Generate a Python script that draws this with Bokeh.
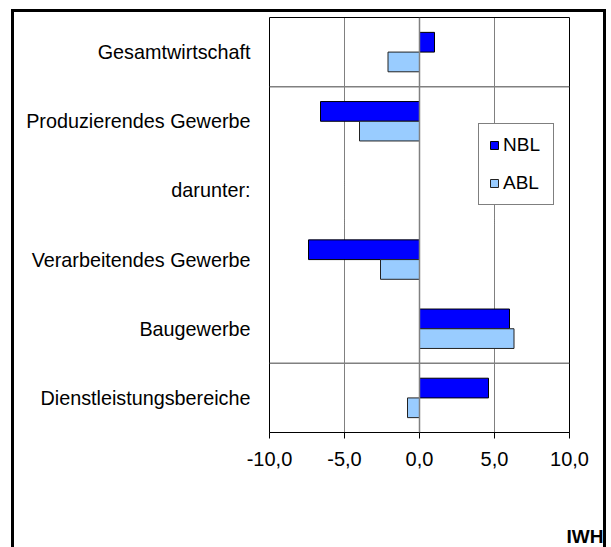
from bokeh.plotting import figure
from bokeh.models import (FactorRange, Range1d, FixedTicker, Span, Legend, LegendItem,
                          Title, ColumnDataSource)
from bokeh.transform import dodge
from bokeh.embed import file_html
from bokeh.resources import INLINE

categories = ["Gesamtwirtschaft", "Produzierendes Gewerbe", "darunter:",
              "Verarbeitendes Gewerbe", "Baugewerbe", "Dienstleistungsbereiche"]
nbl = [1.0, -6.6, None, -7.4, 6.0, 4.6]
abl = [-2.1, -4.0, None, -2.6, 6.3, -0.8]
tick_values = [-10, -5, 0, 5, 10]
tick_labels = ["-10,0", "-5,0", "0,0", "5,0", "10,0"]
series_names = ["NBL", "ABL"]
separators_after = ["Gesamtwirtschaft", "Baugewerbe"]
source_note = "IWH"

FONT = "Liberation Sans"

border_css = ("linear-gradient(#000,#000) 11px 9px / 595px 3px no-repeat, "
              "linear-gradient(#000,#000) 11px 9px / 3px 560px no-repeat, "
              "linear-gradient(#000,#000) 603px 9px / 3px 560px no-repeat, #fff")

p = figure(width=606, height=547, output_backend="svg", toolbar_location=None,
           y_range=FactorRange(factors=list(reversed(categories)), range_padding=0),
           x_range=Range1d(-10, 10), styles={"background": border_css})
p.min_border_left = 269
p.min_border_right = 37
p.min_border_top = 17
p.min_border_bottom = 115
p.outline_line_color = "black"
p.outline_line_width = 1
p.background_fill_color = "white"
p.border_fill_color = None

def src(vals):
    c = [k for k, v in zip(categories, vals) if v is not None]
    v = [v for v in vals if v is not None]
    return ColumnDataSource(dict(cat=c, val=v))

bw = 0.285
r_nbl = p.hbar(y=dodge("cat", bw / 2, range=p.y_range), left=0, right="val", height=bw,
               source=src(nbl), fill_color="#0000FF", line_color="black", line_width=1)
r_abl = p.hbar(y=dodge("cat", -bw / 2, range=p.y_range), left=0, right="val", height=bw,
               source=src(abl), fill_color="#99CCFF", line_color="#222222", line_width=1)

for c in separators_after:
    p.segment(x0=-10, x1=10, y0=dodge("c", -0.5, range=p.y_range), y1=dodge("c", -0.5, range=p.y_range),
              source=ColumnDataSource(dict(c=[c])), line_color="#808080", line_width=1.5)

p.add_layout(Span(location=0, dimension="height", line_color="#808080", line_width=1.5))

p.ygrid.grid_line_color = None
p.xgrid.ticker = FixedTicker(ticks=tick_values)
p.xgrid.grid_line_color = "black"
p.xgrid.grid_line_dash = "1 1"
p.xgrid.grid_line_width = 1

xa = p.xaxis[0]
xa.ticker = FixedTicker(ticks=tick_values)
xa.major_label_overrides = {v: l for v, l in zip(tick_values, tick_labels)}
xa.major_label_text_font = FONT
xa.major_label_text_font_size = "20px"
xa.major_label_text_color = "black"
xa.axis_line_color = "black"
xa.major_tick_line_color = "black"
xa.major_tick_in = 0
xa.major_tick_out = 6
xa.minor_tick_line_color = None
xa.major_label_standoff = 13

ya = p.yaxis[0]
ya.axis_line_color = None
ya.major_tick_line_color = None
ya.minor_tick_line_color = None
ya.major_label_text_font = FONT
ya.major_label_text_font_size = "19.8px"
ya.major_label_text_color = "black"
ya.major_label_standoff = 13

legend = Legend(items=[LegendItem(label=series_names[0], renderers=[r_nbl]),
                       LegendItem(label=series_names[1], renderers=[r_abl])],
                location=(209, 227))
legend.glyph_width = 10
legend.glyph_height = 10
legend.label_text_font = FONT
legend.label_text_font_size = "19px"
legend.label_text_color = "black"
legend.label_standoff = 4
legend.label_height = 20
legend.label_width = 40
legend.spacing = 16
legend.padding = 10
legend.margin = 0
legend.border_line_color = "black"
legend.border_line_width = 1
legend.background_fill_color = "white"
legend.background_fill_alpha = 1
p.add_layout(legend, "center")

spacer = Title(text=" ", text_font_size="1px", standoff=52)
p.add_layout(spacer, "below")
iwh = Title(text=source_note, align="right", vertical_align="bottom", offset=-34, standoff=0,
            text_font=FONT, text_font_size="19px", text_font_style="bold", text_color="black",
            text_line_height=0.7)
p.add_layout(iwh, "below")

open("out.html", "w").write(file_html(p, INLINE))
